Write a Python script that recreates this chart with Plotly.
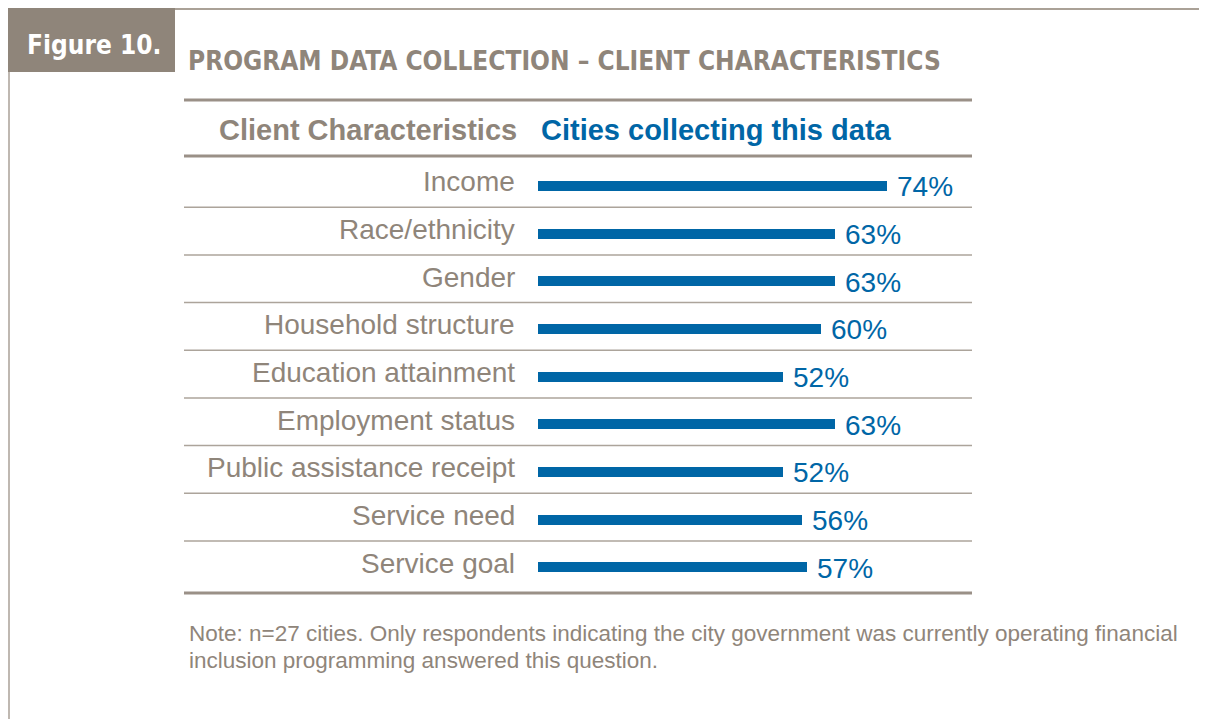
import plotly.graph_objects as go

# --- data ---
categories = [
    "Income", "Race/ethnicity", "Gender", "Household structure",
    "Education attainment", "Employment status", "Public assistance receipt",
    "Service need", "Service goal",
]
values = [74, 63, 63, 60, 52, 63, 52, 56, 57]

title_text = "PROGRAM DATA COLLECTION \u2013 CLIENT CHARACTERISTICS"
figure_label = "Figure 10."
col_head_left = "Client Characteristics"
col_head_right = "Cities collecting this data"
note_lines = [
    "Note: n=27 cities. Only respondents indicating the city government was currently operating financial",
    "inclusion programming answered this question.",
]

# --- colours ---
COLORS = {
    'taupe': '#8f857a',
    'rule': '#9a9087',
    'sep': '#aca49b',
    'frame': '#aaa197',
    'blue': '#0066a6',
}

# page body has an 8px margin, so the figure is placed 8px in
OFF = 8
W, H = 1207 - OFF, 719 - OFF
px_x = lambda p: (p - OFF) / W
px_y = lambda p: 1 - (p - OFF) / H

NARROW = "Liberation Sans Narrow, DejaVu Sans Condensed, Arial Narrow, sans-serif"
SANS = "Liberation Sans, Arial, Helvetica, sans-serif"

fig = go.Figure()

fig.add_trace(go.Bar(
    x=values, y=categories, orientation='h',
    marker=dict(color=COLORS['blue'], line=dict(width=0)),
    width=0.21, hoverinfo='skip',
))

# percent labels and row labels
for cat, val in zip(categories, values):
    fig.add_annotation(
        x=val, y=cat, xref='x', yref='y', text=f"{val}%",
        showarrow=False, xanchor='left', yanchor='middle', xshift=8, yshift=-1,
        font=dict(family=SANS, size=28, color=COLORS['blue']),
    )
    fig.add_annotation(
        x=0, y=cat, xref='x', yref='y', text=cat,
        showarrow=False, xanchor='right', yanchor='middle', xshift=-21, yshift=4,
        font=dict(family=SANS, size=28, color=COLORS['taupe']),
    )

# row separators
for i in range(len(categories) - 1):
    fig.add_shape(
        type='line', xref='paper', yref='y',
        x0=px_x(184), x1=px_x(972), y0=i + 0.45, y1=i + 0.45,
        line=dict(color=COLORS['sep'], width=1.5),
    )

# table rules
for yy in [100, 156, 593]:
    fig.add_shape(
        type='line', xref='paper', yref='paper',
        x0=px_x(184), x1=px_x(972), y0=px_y(yy), y1=px_y(yy),
        line=dict(color=COLORS['rule'], width=3),
    )

# frame: figure box, top line, left line
fig.add_shape(type='rect', xref='paper', yref='paper',
              x0=0, x1=px_x(175), y0=px_y(8), y1=px_y(72),
              fillcolor=COLORS['taupe'], line=dict(width=0))
fig.add_shape(type='line', xref='paper', yref='paper',
              x0=px_x(175), x1=1, y0=px_y(9), y1=px_y(9),
              line=dict(color=COLORS['frame'], width=2))
fig.add_shape(type='line', xref='paper', yref='paper',
              x0=px_x(9), x1=px_x(9), y0=px_y(72), y1=0,
              line=dict(color=COLORS['frame'], width=1.5))

# header texts
fig.add_annotation(x=px_x(25), y=px_y(45), xref='paper', yref='paper',
                   text=f"<b>{figure_label}</b>", showarrow=False,
                   xanchor='left', yanchor='middle',
                   font=dict(family=NARROW, size=26, color='white'))
fig.add_annotation(x=px_x(186), y=px_y(61), xref='paper', yref='paper',
                   text=f"<b>{title_text}</b>", showarrow=False,
                   xanchor='left', yanchor='middle',
                   font=dict(family=NARROW, size=26, color=COLORS['taupe']))
fig.add_annotation(x=px_x(519), y=px_y(130), xref='paper', yref='paper',
                   text=f"<b>{col_head_left}</b>", showarrow=False,
                   xanchor='right', yanchor='middle',
                   font=dict(family=SANS, size=29, color=COLORS['taupe']))
fig.add_annotation(x=px_x(539), y=px_y(130), xref='paper', yref='paper',
                   text=f"<b>{col_head_right}</b>", showarrow=False,
                   xanchor='left', yanchor='middle',
                   font=dict(family=SANS, size=29, color=COLORS['blue']))

# note
for k, line in enumerate(note_lines):
    fig.add_annotation(x=px_x(187), y=px_y(633 + 27 * k), xref='paper', yref='paper',
                       text=line, showarrow=False, xanchor='left', yanchor='middle',
                       font=dict(family=SANS, size=22.5, color=COLORS['taupe']))

fig.update_layout(
    width=W, height=H,
    margin=dict(l=0, r=0, t=0, b=0),
    paper_bgcolor='white', plot_bgcolor='white',
    showlegend=False, bargap=0,
    xaxis=dict(range=[0, 74], domain=[px_x(538), px_x(887)],
               visible=False, fixedrange=True),
    yaxis=dict(range=[8.5, -0.5], domain=[px_y(591), px_y(162)],
               visible=False, fixedrange=True, categoryorder='array',
               categoryarray=categories),
)

fig.write_html("out.html")
